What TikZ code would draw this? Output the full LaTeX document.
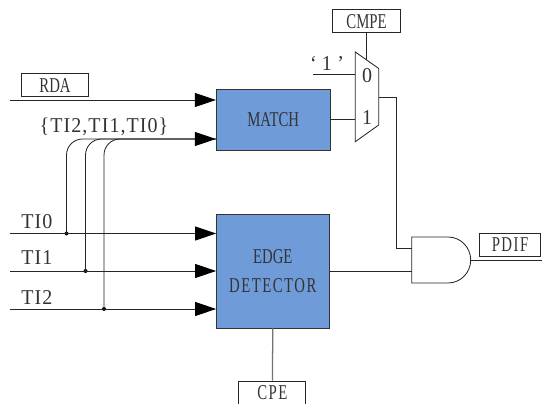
\documentclass[tikz,border=0pt]{standalone}
\usepackage{fontspec}
\setmainfont[FakeStretch=0.7]{Liberation Serif}
\newfontfamily\widefont[FakeStretch=0.95, LetterSpace=5]{Liberation Serif}
\newfontfamily\midfont[FakeStretch=0.7, LetterSpace=7]{Liberation Serif}
\usetikzlibrary{arrows.meta, calc}
\definecolor{blockblue}{HTML}{6F9BD9}
\definecolor{labelgray}{HTML}{333333}
\tikzset{
	sig/.style={line width=0.6pt, draw=black!85},
	sigin/.style={sig, -{Triangle[length=0.525cm, width=0.35cm, color=black]}},
	blockbox/.style={draw=black!80, line width=0.7pt, fill=blockblue, align=center, text=labelgray, font=\fontsize{15}{21}\selectfont},
	namebox/.style={draw=black!85, line width=0.6pt, minimum width=1.69cm, minimum height=0.575cm, inner sep=0pt, text=labelgray, font=\fontsize{15}{15}\selectfont},
	sigtext/.style={inner sep=0pt, text=labelgray, font=\fontsize{15}{15}\widefont},
	joint/.style={circle, fill=black, inner sep=0pt, minimum size=0.1cm}
}

\begin{document}
\begin{tikzpicture}[>=stealth]
      \useasboundingbox (0,0) rectangle (13.55,10.075);
      % blocks
      \node[blockbox, minimum width=2.84cm, minimum height=1.525cm] (match) at (6.83,7.0875) {MATCH};
      \node[blockbox, minimum width=2.81cm, minimum height=2.85cm] (edge) at (6.82,3.3) {EDGE\\{\midfont DETECTOR}};
      \node[namebox] (rda) at (1.375,7.9438) {RDA};
      \node[namebox] (cmpe) at (9.1625,9.544) {CMPE};
      \node[namebox, minimum width=1.675cm] (cpe) at (6.81,0.2625) {\midfont CPE};
      \node[namebox, minimum width=1.525cm] (pdif) at (12.75,3.9625) {\midfont PDIF};
      % left inputs
      \coordinate (rdain) at (0.25,7.575);
      \coordinate (busin) at (6.83,6.6);
      \coordinate (tiain) at (0.25,4.2375);
      \coordinate (tibin) at (0.25,3.3);
      \coordinate (tiin) at (0.25,2.35);
      \node[joint] (tiadot) at (1.6625,4.2375) {};
      \node[joint] (tibdot) at (2.1375,3.3) {};
      \node[joint] (ticdot) at (2.6,2.35) {};
      \draw[sigin] (rdain) -- (rdain -| match.west);
      \draw[sigin] (tiain) -- (tiain -| edge.west);
      \draw[sigin] (tibin) -- (tibin -| edge.west);
      \draw[sigin] (tiin) -- (tiin -| edge.west);
      \draw[sig, rounded corners=0.4cm] (tiadot.center) |- (busin -| match.west);
      \draw[sig, rounded corners=0.4cm] (tibdot.center) |- (busin -| match.west);
      \draw[sigin, rounded corners=0.4cm] (ticdot.center) |- (busin -| match.west);
      \node[sigtext] (buslabel) at (2.6,6.9) {\{TI2,TI1,TI0\}};
      \node[sigtext, anchor=west] (tialabel) at (0.525,4.525) {TI0};
      \node[sigtext, anchor=west] (tiblabel) at (0.525,3.625) {TI1};
      \node[sigtext, anchor=west] (ticlabel) at (0.525,2.625) {TI2};
      % mux
      \coordinate (muxtl) at (8.8825,8.775);
      \coordinate (muxtr) at (9.4675,8.3625);
      \coordinate (muxbr) at (9.4675,6.95);
      \coordinate (muxbl) at (8.8825,6.5325);
      \coordinate (muxsel) at ($(muxtl)!0.48!(muxtr)$);
      \coordinate (muxout) at (9.4675,7.65);
      \coordinate (onein) at (7.825,8.225);
      \draw[sig] (muxtl) -- (muxtr) -- (muxbr) -- (muxbl) -- cycle;
      \node[sigtext] (zerolabel) at (9.175,8.175) {0};
      \node[sigtext] (onelabel) at (9.175,7.125) {1};
      \node[sigtext] (onetext) at (8.175,8.5) {\addfontfeature{LetterSpace=25}‘1’};
      \draw[sig] (cmpe.south) -- (muxsel);
      \draw[sig] (onein) -- (onein -| muxtl);
      \draw[sig] (match.east) -- (match.east -| muxtl);
      % and gate
      \coordinate (andtop) at (10.2925,4.15);
      \coordinate (andbot) at (10.2925,3.0);
      \coordinate (andin) at (10.2925,3.875);
      \coordinate (andout) at (11.7675,3.575);
      \coordinate (pdifend) at (13.55,3.575);
      \draw[sig] (andtop) -- (11.2,4.15) arc[start angle=90, end angle=-90, x radius=0.5675cm, y radius=0.575cm] -- (andbot) -- cycle;
      \draw[sig] (muxout) -| (9.9175,3.875) -- (andin);
      \draw[sig] (edge.east) -- (edge.east -| andtop);
      \draw[sig] (andout) -- (pdifend);
      \draw[sig, draw=black!55, line width=0.9pt] (edge.south) -- (cpe.north);
    \end{tikzpicture}
\end{document}
